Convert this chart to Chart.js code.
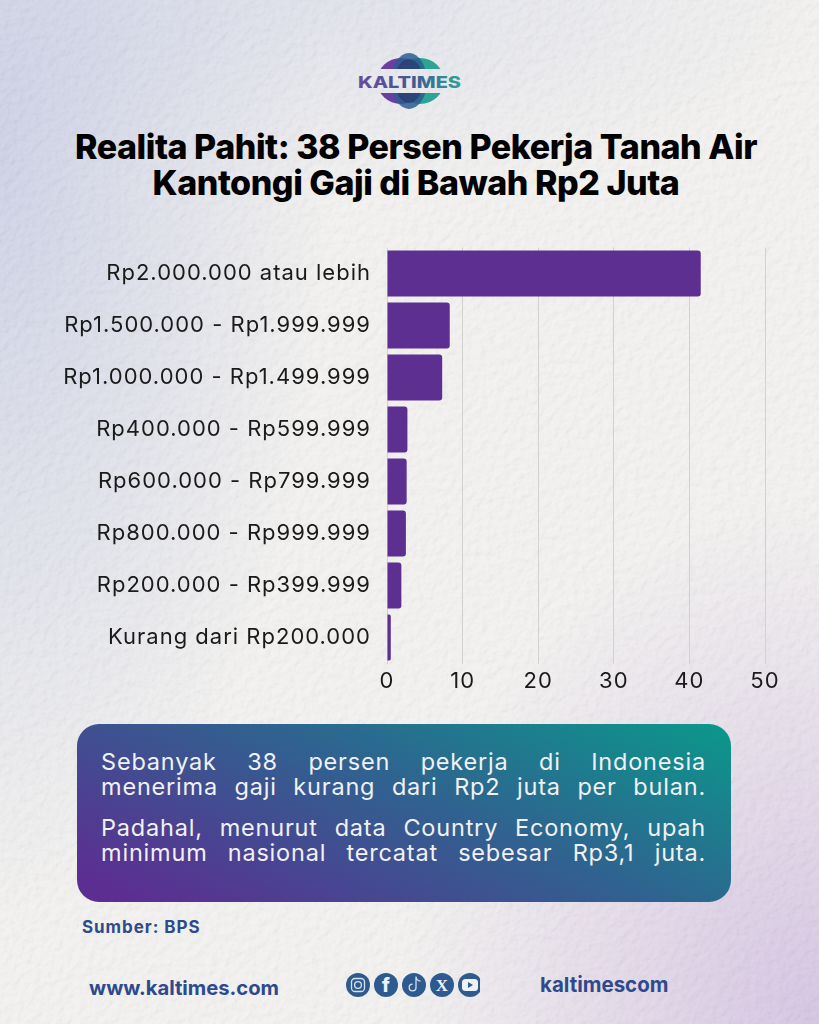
<!DOCTYPE html>
<html lang="id">
<head>
<meta charset="utf-8">
<title>Realita Pahit</title>
<script src="https://cdn.jsdelivr.net/npm/chart.js@4"></script>
<style>
html, body { margin: 0; padding: 0; }
body { width: 819px; height: 1024px; position: relative; overflow: hidden; font-family: Inter, "Open Sans", sans-serif; background: #f1f0ee; }
.bg { position: absolute; inset: 0; background:
  radial-gradient(ellipse 420px 520px at 100% 100%, rgba(190,160,215,.6), rgba(190,160,215,0) 100%),
  radial-gradient(ellipse 330px 760px at 0% 15%, rgba(178,186,222,.62), rgba(178,186,222,0) 100%),
  radial-gradient(ellipse 500px 200px at 40% 0%, rgba(200,205,230,.45), rgba(200,205,230,0) 100%),
  #f2f1ef; }
.texture { position: absolute; left: 0; top: 0; opacity: .12; }
#logo { position: absolute; left: 340px; top: 40px; }
h1 { position: absolute; left: 0; top: 129px; width: 832px; margin: 0; text-align: center; font-size: 34px; line-height: 36px; font-weight: 800; color: #000; letter-spacing: -.45px; }
#chart { position: absolute; left: 0; top: 230px; }
.box { position: absolute; left: 77px; top: 724px; width: 654px; height: 178px; border-radius: 22px; background: linear-gradient(24deg, #5c2e92 6%, #2f6390 56%, #0b988b 100%); }
.box p { position: absolute; left: 24px; width: 605px; margin: 0; color: #f1f1f4; font-size: 23.5px; line-height: 25px; font-family: Inter, sans-serif; letter-spacing: .8px; text-align: justify; text-align-last: justify; }
.src { position: absolute; left: 82px; top: 917px; font-size: 17px; font-weight: 700; color: #2f4a8c; letter-spacing: .95px; }
.web { position: absolute; left: 89px; top: 975px; font-size: 20.2px; font-weight: 700; color: #2f4a8c; }
.ig { position: absolute; left: 540px; top: 972px; font-size: 20.5px; font-weight: 700; color: #2f4a8c; }
#icons { position: absolute; left: 340px; top: 968px; }
</style>
</head>
<body>
<div class="bg"></div>
<svg class="texture" width="819" height="1024">
  <filter id="grain"><feTurbulence type="fractalNoise" baseFrequency="0.13" numOctaves="4" seed="5"/><feDiffuseLighting lighting-color="#fff" surfaceScale="2"><feDistantLight azimuth="45" elevation="55"/></feDiffuseLighting></filter>
  <rect width="819" height="1024" filter="url(#grain)" style="mix-blend-mode:multiply"/>
</svg>

<svg id="logo" width="140" height="80" viewBox="340 40 140 80">
  <defs>
    <clipPath id="domes"><rect x="340" y="40" width="140" height="29"/><rect x="340" y="93" width="140" height="27"/></clipPath>
    <linearGradient id="wordmark" x1="0" x2="1" y1="0" y2="0"><stop offset="0" stop-color="#6a4a9c"/><stop offset=".55" stop-color="#3f5b93"/><stop offset="1" stop-color="#2aa598"/></linearGradient>
  </defs>
  <g clip-path="url(#domes)">
    <ellipse cx="401" cy="81" rx="24" ry="23" fill="#6b3fa0"/>
    <ellipse cx="420" cy="81" rx="24" ry="23" fill="#2ca596"/>
    <ellipse cx="409" cy="81" rx="18" ry="28" fill="#2c5d8f" opacity=".85"/>
    <ellipse cx="409" cy="81" rx="14" ry="22" fill="#2b2f6b" opacity=".6"/>
  </g>
  <text x="358" y="88" textLength="103" lengthAdjust="spacingAndGlyphs" font-family="Inter" font-weight="800" font-size="16" fill="url(#wordmark)">KALTIMES</text>
</svg>

<h1>Realita Pahit: 38 Persen Pekerja Tanah Air<br>Kantongi Gaji di Bawah Rp2 Juta</h1>

<canvas id="chart" width="819" height="480"></canvas>

<div class="box">
  <p style="top:25px">Sebanyak 38 persen pekerja di Indonesia<br>menerima gaji kurang dari Rp2 juta per bulan.</p>
  <p style="top:91px">Padahal, menurut data Country Economy, upah<br>minimum nasional tercatat sebesar Rp3,1 juta.</p>
</div>

<div class="src">Sumber: BPS</div>
<div class="web">www.kaltimes.com</div>
<svg id="icons" width="140" height="34" viewBox="340 968 140 34">
  <g fill="#2e5b8f">
    <circle cx="358" cy="985" r="12"/><circle cx="386" cy="985" r="12"/><circle cx="414" cy="985" r="12"/><circle cx="442" cy="985" r="12"/><circle cx="470" cy="985" r="12"/>
  </g>
  <g fill="none" stroke="#d8e2ee" stroke-width="1.3">
    <rect x="351.5" y="978.5" width="13" height="13" rx="3.5"/><circle cx="358" cy="985" r="3.4"/>
    <path d="M416 976.5v11a3.4 3.4 0 1 1-3.4-3.4M416 977a5 5 0 0 0 4.5 4.2"/>
  </g>
  <text x="386" y="992" text-anchor="middle" font-family="Inter" font-weight="800" font-size="19" fill="#eef2f7">f</text>
  <text x="442" y="991" text-anchor="middle" font-family="Liberation Serif" font-weight="700" font-size="17" fill="#eef2f7">X</text>
  <rect x="462" y="979" width="16" height="12" rx="3.5" fill="#eef2f7"/><path d="M468 982l5 3-5 3z" fill="#2e5b8f"/>
</svg>
<div class="ig">kaltimescom</div>

<script>
// Gaji pekerja per kelompok (persen)
const categories = [
    'Rp2.000.000 atau lebih',
    'Rp1.500.000 - Rp1.999.999',
    'Rp1.000.000 - Rp1.499.999',
    'Rp400.000 - Rp599.999',
    'Rp600.000 - Rp799.999',
    'Rp800.000 - Rp999.999',
    'Rp200.000 - Rp399.999',
    'Kurang dari Rp200.000'
];
const values = [41.5, 8.3, 7.3, 2.7, 2.6, 2.5, 1.9, 0.5];
const xTicks = [0, 10, 20, 30, 40, 50];

const tickFont = { family: 'Inter', size: 22, weight: '400' };

// Montserrat is not installed, so widen the labels a bit
const wideLabels = {
    id: 'wideLabels',
    beforeDraw(chart) { chart.ctx.letterSpacing = '1px'; }
};

new Chart(document.getElementById('chart').getContext('2d'), {
    type: 'bar',
    data: {
        labels: categories,
        datasets: [{
            data: values,
            backgroundColor: '#5c2f91',
            borderRadius: { topRight: 3, bottomRight: 3 },
            borderSkipped: false,
            barPercentage: 0.885,
            categoryPercentage: 1
        }]
    },
    options: {
        indexAxis: 'y',
        responsive: false,
        animation: false,
        devicePixelRatio: 1,
        layout: { padding: { top: 17.5, right: 54, bottom: 0, left: 0 } },
        plugins: { legend: { display: false }, tooltip: { enabled: false } },
        scales: {
            x: {
                min: xTicks[0],
                max: xTicks[xTicks.length - 1],
                afterBuildTicks: axis => { axis.ticks = xTicks.map(value => ({ value })); },
                afterFit: axis => { axis.height = 46.5; },
                grid: { color: '#d2d1d0', lineWidth: 1, drawTicks: false },
                border: { display: false },
                ticks: { color: '#1a1a1a', font: tickFont, padding: 5, maxRotation: 0 }
            },
            y: {
                afterFit: axis => { axis.width = 387; },
                // gap comes from the tick length, ticks.padding would push the plot down
                grid: { color: 'rgba(0,0,0,0)', drawTicks: true, tickLength: 16 },
                border: { display: false },
                ticks: { color: '#1a1a1a', font: tickFont, padding: 0, autoSkip: false }
            }
        }
    },
    plugins: [wideLabels]
});
</script>
</body>
</html>
